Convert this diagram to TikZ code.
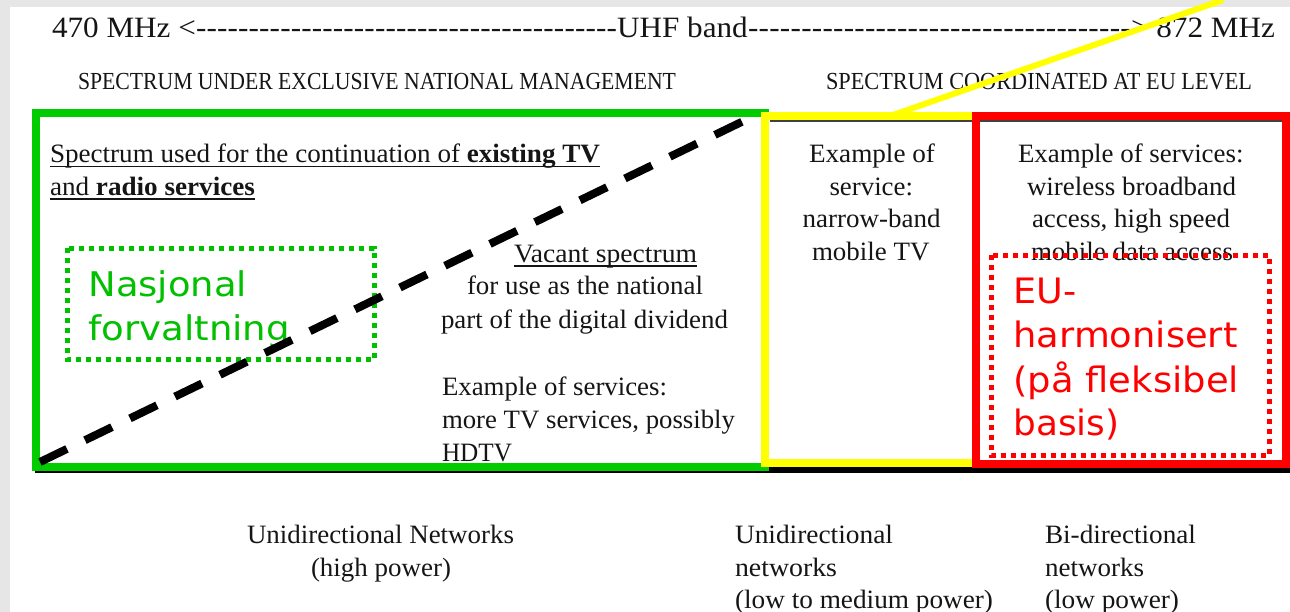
\documentclass[tikz,border=0pt]{standalone}
\usepackage{fontspec}
\setmainfont{Liberation Serif}
\newfontfamily\sansfnt{DejaVu Sans}
\usepackage{graphicx}
\definecolor{bggray}{HTML}{E6E6E6}
\definecolor{boxgreen}{HTML}{00CC00}
\definecolor{txtgreen}{HTML}{00C000}
\definecolor{boxyellow}{HTML}{FFFF00}
\definecolor{boxred}{HTML}{FF0000}
\definecolor{ink}{HTML}{151515}
\newcommand\fw[2]{\resizebox{#1pt}{\height}{#2}}
\begin{document}
\begin{tikzpicture}[x=1pt,y=-1pt,
  txt/.style={inner sep=0pt, outer sep=0pt, anchor=base west, text=ink, font=\fontsize{26.5}{30}\selectfont},
  hdr/.style={txt, font=\fontsize{24.5}{30}\selectfont},
  toptxt/.style={txt, font=\fontsize{29.5}{34}\selectfont},
  gtxt/.style={inner sep=0pt, outer sep=0pt, anchor=base west, text=txtgreen, font=\sansfnt\fontsize{34}{40}\selectfont},
  rtxt/.style={inner sep=0pt, outer sep=0pt, anchor=base west, text=boxred, font=\sansfnt\fontsize{35}{40}\selectfont},
  uline/.style={ink, line width=1.4pt},
  gbox/.style={draw=boxgreen, line width=7.5pt},
  ybox/.style={draw=boxyellow, line width=8pt},
  rbox/.style={draw=boxred, line width=8pt},
  gdot/.style={draw=txtgreen, line width=5pt, dash pattern=on 5pt off 5pt},
  rdot/.style={draw=boxred, line width=5pt, dash pattern=on 5pt off 5pt},
  diag/.style={line width=8pt, dash pattern=on 30pt off 20pt},
  yline/.style={draw=boxyellow, line width=6pt}]
\useasboundingbox (0,0) rectangle (1290,612);
% background
\fill[bggray] (0,0) rectangle (1290,612);
\fill[white] (10,7) rectangle (1290,612);

% top band line
\node[toptxt] (band) at (52,38) {\fw{1223}{\hbox to 1158pt{470 MHz <\xleaders\hbox{-}\hskip 0pt plus 421fil\relax UHF band\xleaders\hbox{-}\hskip 0pt plus 383fil\relax> 872 MHz}}};

% headers
\node[hdr] (hnat) at (78,90) {\fw{598}{SPECTRUM UNDER EXCLUSIVE NATIONAL MANAGEMENT}};
\node[hdr] (heu) at (826,90) {\fw{426}{SPECTRUM COORDINATED AT EU LEVEL}};

% frame lines
\fill[black] (35,467) rectangle (1290,473);
\draw[gray!50!black, line width=1.2pt] (770,121) -- (1282,121);

% boxes
\draw[gbox] (36,113) rectangle (765,467);
\draw[ybox] (765,116) rectangle (976,463);
\draw[rbox] (976,116) rectangle (1285.5,464);

% yellow pointer line
\coordinate (yA) at (893,115);
\coordinate (yB) at (1223,0);
\draw[yline] (yA) -- (yB);

% left block text
\node[txt] (s1) at (50,163) {\fw{550}{Spectrum used for the continuation of \textbf{existing TV}}};
\node[txt] (s2) at (50,195.5) {\fw{205}{and \textbf{radio services}}};
\draw[uline] ([yshift=-3.5pt]s1.base west) -- ([yshift=-3.5pt]s1.base east);
\draw[uline] ([yshift=-3.5pt]s2.base west) -- ([yshift=-3.5pt]s2.base east);

\node[txt] (v1) at (514,262.5) {\fw{183}{Vacant spectrum}};
\draw[uline] ([yshift=-3.5pt]v1.base west) -- ([yshift=-3.5pt]v1.base east);
\node[txt] (v2) at (467,295) {\fw{236}{for use as the national}};
\node[txt] (v3) at (441,328) {\fw{287}{part of the digital dividend}};
\node[txt] (e1) at (442,395) {\fw{225}{Example of services:}};
\node[txt] (e2) at (442,428) {\fw{293}{more TV services, possibly}};
\node[txt] (e3) at (442,461) {\fw{70}{HDTV}};

% yellow box text
\node[txt] (y1) at (809,163) {\fw{126}{Example of}};
\node[txt] (y2) at (829.5,195.5) {\fw{83.5}{service:}};
\node[txt] (y3) at (802.5,228) {\fw{138}{narrow-band}};
\node[txt] (y4) at (812,260.5) {\fw{117.5}{mobile TV}};

% red box text
\node[txt] (r1) at (1018,163) {\fw{225.5}{Example of services:}};
\node[txt] (r2) at (1027,195.5) {\fw{209}{wireless broadband}};
\node[txt] (r3) at (1032,228) {\fw{198}{access, high speed}};
\node[txt] (r4) at (1031,260.5) {\fw{202}{mobile data access}};

% green label
\node[gtxt] (g1) at (88.5,297) {\fw{158.5}{Nasjonal}};
\node[gtxt] (g2) at (88.5,340) {\fw{201.5}{forvaltning}};
\draw[gdot] (67.2,248.2) rectangle (374.1,359.8);

% red label
\node[rtxt] (eu1) at (1013.5,303) {\fw{63}{EU-}};
\node[rtxt] (eu2) at (1013.5,347) {\fw{224}{harmonisert}};
\node[rtxt] (eu3) at (1013.5,392) {\fw{225.5}{(på fleksibel}};
\node[rtxt] (eu4) at (1013.5,435) {\fw{106}{basis)}};
\draw[rdot] (991.5,255.2) rectangle (1269,455.8);

% dashed diagonal
\coordinate (dA) at (40,462);
\coordinate (dB) at (758,114);
\draw[diag] (dA) -- (dB);

% bottom labels
\node[txt] (b1) at (247,543) {\fw{267}{Unidirectional Networks}};
\node[txt] (b2) at (311,576) {\fw{140}{(high power)}};
\node[txt] (b3) at (735,543) {\fw{158}{Unidirectional}};
\node[txt] (b4) at (735,576) {\fw{102}{networks}};
\node[txt] (b5) at (735,608) {\fw{258}{(low to medium power)}};
\node[txt] (b6) at (1045,543) {\fw{151}{Bi-directional}};
\node[txt] (b7) at (1045,576) {\fw{99}{networks}};
\node[txt] (b8) at (1045,608) {\fw{134}{(low power)}};
\end{tikzpicture}
\end{document}
